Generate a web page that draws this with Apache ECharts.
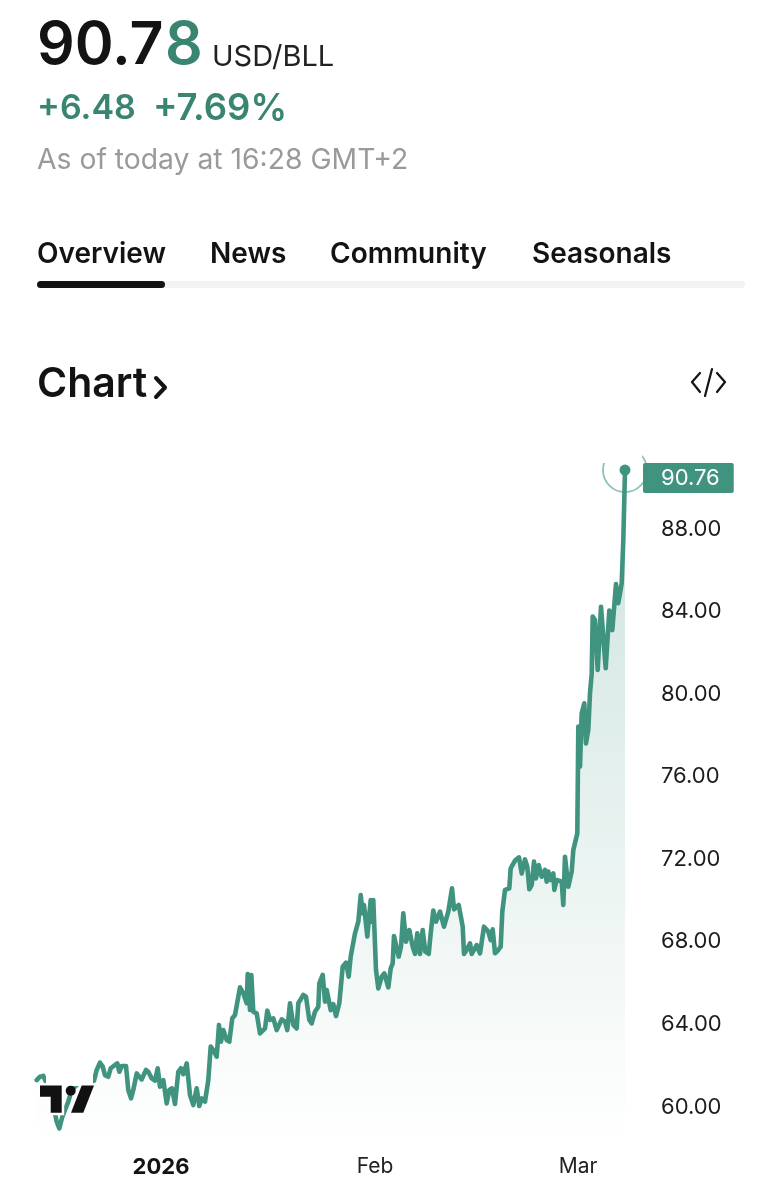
<!DOCTYPE html>
<html><head><meta charset="utf-8">
<style>html,body{margin:0;padding:0;background:#fff}#c{width:781px;height:1200px}</style>
<script src="https://cdn.jsdelivr.net/npm/echarts@6/dist/echarts.min.js"></script>
</head><body><div id="c"></div>
<script>
// x: trading days counted from the start of 2026
const days = [-12.43,-12.1,-11.77,-11.5,-11.27,-10.93,-10.6,-10.43,-10.17,-9.97,-9.87,-9.6,-9.27,-8.93,-8.27,-7.43,-6.7,-6.43,-6.1,-5.83,-5.6,-5.27,-5.03,-4.6,-4.37,-4.17,-3.93,-3.5,-3.27,-3.0,-2.77,-2.43,-2.17,-1.93,-1.5,-1.27,-0.93,-0.6,-0.33,-0.1,0.23,0.57,0.83,1.1,1.4,1.73,2.0,2.23,2.57,2.9,3.23,3.57,3.83,4.07,4.4,4.73,4.97,5.23,5.57,5.8,6.0,6.23,6.57,6.83,7.13,7.4,7.9,8.23,8.57,8.67,8.9,9.03,9.23,9.57,9.9,10.4,10.63,10.9,11.23,11.57,12.07,12.4,12.63,12.9,13.07,13.23,13.57,13.73,14.23,14.5,14.83,15.07,15.4,15.73,15.83,
16.17,16.4,16.57,16.97,17.23,17.5,17.83,18.17,18.5,18.77,18.97,19.4,19.73,19.97,20.17,20.3,20.63,20.97,21.1,21.23,21.5,21.73,22.07,22.33,22.73,22.97,23.17,23.3,23.5,23.77,24.0,24.23,24.5,24.83,25.17,25.4,25.63,25.9,26.17,26.43,26.77,26.97,27.23,27.5,27.9,28.3,28.73,29.1,29.3,29.77,30.17,30.3,30.57,30.9,31.07,31.57,31.9,32.3,32.73,32.97,33.17,33.4,33.73,33.97,34.13,34.4,34.83,34.97,35.4,35.8,36.07,36.4,36.63,36.83,37.07,37.3,37.5,37.77,38.07,38.4,38.57,38.73,38.97,39.23,39.33,39.57,40.07,40.23,40.4,40.73,41.07,41.23,
41.4,41.63,41.73,41.9,42.07,42.33,42.5,42.73,42.9,43.07,43.17,43.4,43.67,44.0,44.47,44.83,45.13,45.5,45.73,46.07,46.23,46.4];
const prices = [61.21,61.37,61.41,61.13,60.89,60.32,59.6,59.19,58.87,58.79,59.43,59.76,60.16,60.73,61.05,61.13,61.18,61.7,62.05,61.86,61.45,61.37,61.78,61.94,62.02,61.61,61.89,61.89,60.73,60.32,60.73,61.53,61.37,61.24,61.7,61.61,61.29,61.18,61.78,60.89,61.21,60.08,60.73,60.81,60.05,61.61,61.78,61.5,62.02,60.48,60.0,60.81,59.95,60.32,60.16,61.21,62.83,62.66,62.34,63.88,63.07,63.63,63.15,63.07,64.2,64.36,65.7,65.41,64.93,66.35,64.6,66.3,64.52,64.44,63.47,63.71,64.57,64.12,64.2,63.63,64.15,64.04,63.63,64.93,64.84,63.88,63.71,64.93,65.33,65.25,64.12,63.96,64.52,64.76,65.89,
66.3,65.01,65.57,64.6,64.89,64.31,64.93,66.7,66.9,66.22,67.19,68.32,68.88,70.17,69.29,69.69,68.16,69.93,68.88,69.93,66.54,65.65,66.22,66.38,65.7,66.62,66.86,68.19,67.75,67.19,67.67,69.29,67.91,68.48,67.67,67.32,68.32,67.32,68.48,67.43,67.32,68.32,69.42,68.88,69.37,68.64,69.37,70.5,69.48,69.69,68.64,67.32,67.51,67.83,67.32,67.75,67.35,68.64,68.4,67.99,68.51,67.35,67.51,67.67,69.37,70.42,70.5,71.47,71.84,72.0,71.22,71.9,71.55,70.45,70.66,71.79,70.98,71.63,71.06,71.39,70.82,71.31,70.9,71.22,70.42,70.9,70.82,69.69,72.03,70.58,71.31,72.35,
72.35,73.16,78.33,76.39,78.98,79.46,77.52,78.17,79.95,80.91,83.66,83.5,81.08,84.14,81.16,83.95,83.01,85.24,84.31,85.27,87.37,90.76];
const xTickDays = [0, 21.4, 41.7];
const xTickLabels = ['2026', 'Feb', 'Mar'];
const yTicks = [60,64,68,72,76,80,84,88];

const GREEN = '#40937f', TEXTGREEN = '#3a8571', INK = '#131313';
const FF = 'Inter, sans-serif';
const series = days.map((d, i) => [d, prices[i]]);
const last = series[series.length - 1];

function txt(text, x, y, font, fill, align) {
  return { type: 'text', z: 20, silent: true,
    style: { text, x, y, font: font + ' ' + FF, fill, textAlign: align || 'left', textVerticalAlign: 'middle' } };
}
function stroke(points, color, w) {
  return { type: 'polyline', z: 20, silent: true, shape: { points },
    style: { stroke: color, lineWidth: w, fill: null, lineCap: 'round', lineJoin: 'round' } };
}
const graphics = [
  txt('90.7', 37, 46, '600 59px', INK),
  txt('8', 165, 46, '600 59px', TEXTGREEN),
  txt('USD/BLL', 212, 57, '400 29px', '#222'),
  txt('+6.48', 37, 109, '600 34px', TEXTGREEN),
  txt('+7.69%', 153, 109, '600 36.5px', TEXTGREEN),
  txt('As of today at 16:28 GMT+2', 37, 160, '400 28.3px', '#9a9a9a'),
  txt('Overview', 37, 255, '600 28px', INK),
  txt('News', 210, 255, '600 28px', INK),
  txt('Community', 330, 255, '600 28px', INK),
  txt('Seasonals', 532, 255, '600 28px', INK),
  { type: 'rect', z: 19, silent: true, shape: { x: 37, y: 281, width: 708, height: 7, r: 3.5 }, style: { fill: '#f3f3f3' } },
  { type: 'rect', z: 20, silent: true, shape: { x: 37, y: 281, width: 128, height: 7, r: 3.5 }, style: { fill: INK } },
  txt('Chart', 37, 385, '600 41px', INK),
  stroke([[156, 378], [165, 387.5], [156, 397]], INK, 4),
  stroke([[700, 373], [692, 382], [700, 392]], INK, 2.2),
  stroke([[712, 369], [705, 396]], INK, 2.2),
  stroke([[717, 373], [725, 382], [717, 392]], INK, 2.2),
  // clip of the ripple ring
  { type: 'rect', z: 4, silent: true, shape: { x: 595, y: 440, width: 47, height: 23 }, style: { fill: '#fff' } },
  // logo and its backing
  { type: 'rect', z: 9, silent: true, shape: { x: 46, y: 1076, width: 47, height: 10 }, style: { fill: '#fff' } },
  { type: 'polygon', z: 10, silent: true, shape: { points: [[40, 1085.5], [61.7, 1085.5], [61.7, 1112.7], [50.7, 1112.7], [50.7, 1096.7], [40, 1096.7]] }, style: { fill: '#111', stroke: '#fff', lineWidth: 5, strokeFirst: true } },
  { type: 'circle', z: 10, silent: true, shape: { cx: 70.7, cy: 1090.7, r: 5 }, style: { fill: '#111' } },
  { type: 'polygon', z: 10, silent: true, shape: { points: [[81.7, 1085.5], [94, 1085.5], [83.3, 1112.7], [71, 1112.7]] }, style: { fill: '#111' } }
];

const chart = echarts.init(document.getElementById('c'), null, { renderer: 'canvas' });
chart.setOption({
  animation: false,
  backgroundColor: '#fff',
  textStyle: { fontFamily: FF },
  grid: { left: 37, right: 156, top: 444.5, bottom: 53.7 },
  xAxis: {
    type: 'value', min: -12.4, max: 46.4,
    axisLine: { show: false }, axisTick: { show: false }, splitLine: { show: false },
    axisLabel: {
      customValues: xTickDays, margin: 10, fontSize: 21, color: '#222',
      formatter: v => { const s = xTickLabels[xTickDays.indexOf(v)]; return s === '2026' ? '{b|' + s + '}' : s; },
      rich: { b: { fontSize: 22, fontWeight: 700, color: '#131313', fontFamily: FF } }
    }
  },
  yAxis: {
    type: 'value', position: 'right', min: 58, max: 92,
    axisLine: { show: false }, axisTick: { show: false }, splitLine: { show: false },
    axisLabel: { customValues: yTicks, margin: 36, fontSize: 22, color: '#1c1c1c', verticalAlign: 'top', lineHeight: 4, formatter: v => v.toFixed(2) }
  },
  series: [
    { type: 'scatter', name: 'ring', z: 3, silent: true, clip: false, data: [last], symbol: 'circle', symbolSize: 44,
      itemStyle: { color: 'rgba(0,0,0,0)', borderColor: '#8cc5b8', borderWidth: 1.8, opacity: 1 } },
    { type: 'line', name: 'USD/BLL', z: 5, silent: true, data: series, showSymbol: false, clip: false,
      lineStyle: { color: GREEN, width: 4.6, cap: 'round', join: 'round' },
      areaStyle: { color: { type: 'linear', x: 0, y: 0, x2: 0, y2: 1, colorStops: [
        { offset: 0, color: 'rgba(61,148,128,0.37)' }, { offset: 1, color: 'rgba(61,148,128,0)' } ] } },
      endLabel: { show: true, distance: 18, offset: [0, 8], formatter: p => p.value[1].toFixed(2), color: '#fff', fontSize: 22,
        backgroundColor: GREEN, borderRadius: 2, padding: [4, 14, 4, 18], lineHeight: 22 } },
    { type: 'scatter', name: 'dot', z: 6, silent: true, clip: false, data: [last], symbol: 'circle', symbolSize: 11, itemStyle: { color: GREEN, opacity: 1 } }
  ],
  graphic: graphics
});
</script></body></html>
